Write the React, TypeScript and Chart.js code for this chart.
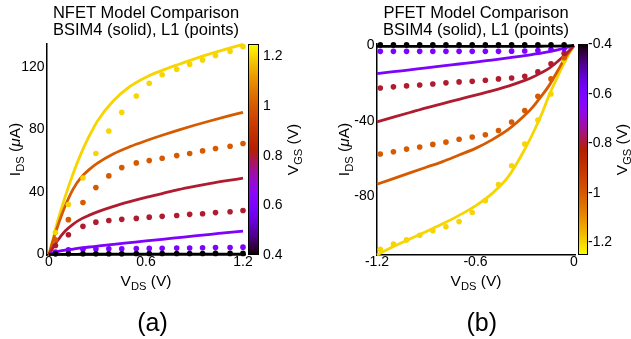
import React, { useEffect, useRef } from "react";
import { Chart, registerables } from "chart.js";
Chart.register(...registerables);

const FONT = '"Liberation Sans", Arial, Helvetica, sans-serif';

// ---------- NFET (panel a) ----------
const nLineVds = [0, 0.025, 0.05, 0.1, 0.15, 0.2, 0.25, 0.3, 0.4, 0.5, 0.6, 0.7, 0.8, 0.9, 1.0, 1.1, 1.2];
const nLine04 = [0, 0.05, 0.1, 0.1, 0.1, 0.15, 0.15, 0.15, 0.2, 0.2, 0.2, 0.25, 0.25, 0.25, 0.3, 0.3, 0.3];
const nLine06 = [0, 1, 1.8, 2.8, 3.5, 4.2, 4.8, 5.3, 6.5, 7.6, 8.7, 9.7, 10.8, 11.9, 12.9, 14, 15];
const nLine08 = [0, 4.5, 8.5, 15, 19.5, 22.8, 25.2, 27.3, 30.8, 33.8, 36.5, 39, 41.5, 43.6, 45.5, 47.2, 48.8];
const nLine10 = [0, 9, 17, 31, 42, 49.5, 54.5, 58.5, 64.5, 69, 72.8, 76.3, 79.6, 82.7, 85.6, 88.4, 91];
const nLine12 = [0, 10, 20, 37, 52, 65, 76, 85.5, 98.5, 107.5, 113.5, 117.8, 121.6, 125.2, 128.5, 131.6, 134.5];

const nPtVds = [0.04, 0.12, 0.21, 0.29, 0.37, 0.45, 0.54, 0.62, 0.7, 0.79, 0.87, 0.95, 1.03, 1.12, 1.2];
const nPt04 = [0.4, 0.5, 0.5, 0.5, 0.5, 0.5, 0.6, 0.6, 0.6, 0.6, 0.6, 0.6, 0.7, 0.7, 0.7];
const nPt06 = [1.5, 3, 3.3, 3.5, 3.6, 3.7, 3.8, 3.9, 4, 4.1, 4.2, 4.3, 4.4, 4.5, 4.7];
const nPt08 = [5.8, 12.6, 18, 20.7, 21.8, 22.5, 23.1, 23.9, 24.4, 25, 25.7, 26.1, 26.8, 27.4, 28.2];
const nPt10 = [9.4, 22.3, 33.2, 42.8, 50.3, 55.6, 58.6, 60.1, 61.6, 63.3, 64.6, 66.3, 67.8, 69.3, 71];
const nPt12 = [14, 32, 49, 64.6, 79, 91, 101.4, 109.6, 115, 118.5, 121.7, 124.5, 127.3, 130, 133];

const nXTicks = [0, 0.6, 1.2];
const nXLabels = ["0", "0.6", "1.2"];
const nYTicks = [0, 40, 80, 120];
const nYLabels = ["0", "40", "80", "120"];
const nCbTicks = [0.4, 0.6, 0.8, 1.0, 1.2];
const nCbLabels = ["0.4", "0.6", "0.8", "1", "1.2"];

// ---------- PFET (panel b) ----------
const pLineVds = [-1.2, -1.1, -1.0, -0.9, -0.8, -0.7, -0.6, -0.5, -0.4, -0.3, -0.25, -0.2, -0.15, -0.1, -0.05, 0];
const pLine04 = [-0.5, -0.5, -0.5, -0.5, -0.5, -0.5, -0.5, -0.5, -0.5, -0.5, -0.45, -0.4, -0.35, -0.3, -0.2, 0];
const pLine06 = [-14.9, -13.9, -12.9, -11.9, -10.8, -9.8, -8.8, -7.7, -6.6, -5.4, -4.7, -4, -3.2, -2.3, -1.2, 0];
const pLine08 = [-40.5, -38, -35.5, -33, -30.8, -28.5, -26.3, -24, -21.5, -18.5, -16.7, -14.5, -12, -8.5, -4.5, 0];
const pLine10 = [-73.5, -70.5, -67.5, -64.5, -61.5, -58, -54.5, -50, -44.5, -37, -32.5, -27, -21, -13.5, -6, 0];
const pLine12 = [-111, -106.5, -102.5, -98.5, -94.5, -90, -85, -78.5, -69.5, -55, -46.5, -37, -26, -16.5, -7.5, 0];

const pPtVds = [-1.18, -1.1, -1.02, -0.94, -0.86, -0.78, -0.7, -0.62, -0.54, -0.46, -0.38, -0.3, -0.22, -0.14, -0.06];
const pPt04 = [0.3, 0.3, 0.3, 0.3, 0.3, 0.3, 0.3, 0.3, 0.3, 0.3, 0.3, 0.3, 0.3, 0.3, 0.3];
const pPt06 = [-3.1, -3.1, -3.1, -3.1, -3.1, -3.1, -3.1, -3.1, -3.1, -3.1, -3, -2.9, -2.7, -2.1, -1.6];
const pPt08 = [-22.5, -21.9, -21.4, -20.9, -20.4, -19.8, -19.3, -19, -18.4, -17.7, -17.2, -16.3, -14, -9.7, -4.2];
const pPt10 = [-57.5, -56.3, -54.9, -53.8, -52.4, -51.2, -49.7, -48.5, -47.3, -45, -40.5, -34.5, -26.9, -17.7, -6.5];
const pPt12 = [-108, -105.2, -103, -100.5, -98.2, -96, -93.3, -88.5, -82.2, -73.7, -63.7, -52.2, -39.5, -25.7, -8];

const pXTicks = [-1.2, -0.6, 0];
const pXLabels = ["-1.2", "-0.6", "0"];
const pYTicks = [0, -40, -80];
const pYLabels = ["0", "-40", "-80"];
const pCbTicks = [-0.4, -0.6, -0.8, -1.0, -1.2];
const pCbLabels = ["-0.4", "-0.6", "-0.8", "-1", "-1.2"];

const vgsLabels = ["0.4", "0.6", "0.8", "1.0", "1.2"];

// gnuplot colormap
function gnuplot(t: number): string {
  const c = (v: number) => Math.round(Math.max(0, Math.min(1, v)) * 255);
  return `rgb(${c(Math.sqrt(t))},${c(t * t * t)},${c(Math.sin(2 * Math.PI * t))})`;
}
const seriesColors = ["#000000", "rgb(124,3,254)", "rgb(175,27,47)", "rgb(214,90,0)", "rgb(247,213,0)"];

type Part = { t: string; sub?: boolean; italic?: boolean };

function drawRich(ctx: CanvasRenderingContext2D, parts: Part[], x: number, y: number, size: number, rotate: boolean) {
  ctx.save();
  ctx.translate(x, y);
  if (rotate) ctx.rotate(-Math.PI / 2);
  const fonts = parts.map((p) => `${p.italic ? "italic " : ""}${p.sub ? size * 0.72 : size}px ${FONT}`);
  let total = 0;
  const widths = parts.map((p, i) => {
    ctx.font = fonts[i];
    const w = ctx.measureText(p.t).width;
    total += w;
    return w;
  });
  let cx = -total / 2;
  ctx.fillStyle = "#000";
  ctx.textBaseline = "alphabetic";
  ctx.textAlign = "left";
  parts.forEach((p, i) => {
    ctx.font = fonts[i];
    ctx.fillText(p.t, cx, p.sub ? size * 0.28 : 0);
    cx += widths[i];
  });
  ctx.restore();
}

type PanelSpec = {
  canvasW: number;
  area: { left: number; right: number; top: number; bottom: number };
  xRange: [number, number];
  yRange: [number, number];
  cbRange: [number, number];
  xTicks: number[]; xLabels: string[];
  yTicks: number[]; yLabels: string[];
  cbTicks: number[]; cbLabels: string[];
  lineX: number[]; lines: number[][];
  ptX: number[]; pts: number[][];
  cbGap: number; cbW: number; cbPad: number; cbReverse: boolean;
  title: [string, string];
  yTitleX: number; cbTitleX: number;
  tag: string; tagX: number;
  name: string;
};

const H = 339;

function buildConfig(p: PanelSpec): any {
  const datasets: any[] = [];
  p.pts.forEach((ys, i) => {
    datasets.push({
      type: "line",
      label: `${p.name} L1 VGS=${vgsLabels[i]}`,
      data: p.ptX.map((x, j) => ({ x, y: ys[j] })),
      showLine: false,
      pointRadius: 2.8,
      pointBorderWidth: 0,
      pointBackgroundColor: seriesColors[i],
      borderColor: seriesColors[i],
      backgroundColor: seriesColors[i],
      clip: false,
    });
  });
  p.lines.forEach((ys, i) => {
    datasets.push({
      type: "line",
      label: `${p.name} BSIM4 VGS=${vgsLabels[i]}`,
      data: p.lineX.map((x, j) => ({ x, y: ys[j] })),
      borderColor: seriesColors[i],
      backgroundColor: seriesColors[i],
      borderWidth: 2.8,
      pointRadius: 0,
      cubicInterpolationMode: "monotone",
      fill: false,
      clip: false,
    });
  });

  const tickFont = { family: FONT, size: 14, lineHeight: 1 };

  const decor = {
    id: "decor",
    afterDraw(chart: any) {
      const ctx = chart.ctx as CanvasRenderingContext2D;
      const a = chart.chartArea;
      const cx = (a.left + a.right) / 2;
      const cy = (a.top + a.bottom) / 2;
      // colorbar
      const bx = a.right + p.cbGap;
      const g = ctx.createLinearGradient(0, p.cbReverse ? a.top : a.bottom, 0, p.cbReverse ? a.bottom : a.top);
      for (let k = 0; k <= 40; k++) g.addColorStop(k / 40, gnuplot(k / 40));
      ctx.save();
      ctx.fillStyle = g;
      ctx.fillRect(bx, a.top, p.cbW, a.bottom - a.top);
      ctx.strokeStyle = "#000";
      ctx.lineWidth = 1;
      ctx.strokeRect(bx + 0.5, a.top + 0.5, p.cbW - 1, a.bottom - a.top - 1);
      // titles
      ctx.fillStyle = "#000";
      ctx.textAlign = "center";
      ctx.textBaseline = "alphabetic";
      ctx.font = `16.5px ${FONT}`;
      ctx.fillText(p.title[0], cx, 18.3);
      ctx.fillText(p.title[1], cx, 35);
      ctx.font = `25px ${FONT}`;
      ctx.fillText(p.tag, p.tagX, 331);
      ctx.restore();
      drawRich(ctx, [{ t: "V" }, { t: "DS", sub: true }, { t: " (V)" }], cx, 285.5, 15.5, false);
      drawRich(ctx, [{ t: "I" }, { t: "DS", sub: true }, { t: " (" }, { t: "\u03bc", italic: true }, { t: "A)" }], p.yTitleX, cy, 15.5, true);
      drawRich(ctx, [{ t: "V" }, { t: "GS", sub: true }, { t: " (V)" }], p.cbTitleX, cy, 15.5, true);
    },
  };

  return {
    type: "line",
    data: { datasets },
    plugins: [decor],
    options: {
      animation: false,
      responsive: false,
      maintainAspectRatio: false,
      events: [],
      layout: { padding: { top: p.area.top, left: 0, right: 0, bottom: 0 } },
      plugins: { legend: { display: false }, tooltip: { enabled: false }, title: { display: false } },
      scales: {
        x: {
          type: "linear",
          position: "bottom",
          min: p.xRange[0],
          max: p.xRange[1],
          afterFit: (s: any) => { s.height = H - p.area.bottom; },
          afterBuildTicks: (s: any) => { s.ticks = p.xTicks.map((v) => ({ value: v })); },
          ticks: { callback: (_v: any, i: number) => p.xLabels[i], font: tickFont, color: "#000", padding: 0, maxRotation: 0, autoSkip: false },
          grid: { display: false, drawTicks: false },
          border: { display: true, color: "#000", width: 1.5 },
        },
        y: {
          type: "linear",
          position: "left",
          min: p.yRange[0],
          max: p.yRange[1],
          afterFit: (s: any) => { s.width = p.area.left; },
          afterBuildTicks: (s: any) => { s.ticks = p.yTicks.map((v) => ({ value: v })); },
          ticks: { callback: (_v: any, i: number) => p.yLabels[i], font: tickFont, color: "#000", padding: 2.5, autoSkip: false },
          grid: { display: false, drawTicks: false },
          border: { display: true, color: "#000", width: 1.5 },
        },
        cb: {
          type: "linear",
          axis: "y",
          position: "right",
          min: p.cbRange[0],
          max: p.cbRange[1],
          afterFit: (s: any) => { s.width = p.canvasW - p.area.right; },
          afterBuildTicks: (s: any) => { s.ticks = p.cbTicks.map((v) => ({ value: v })); },
          ticks: { callback: (_v: any, i: number) => p.cbLabels[i], font: tickFont, color: "#000", padding: p.cbPad, autoSkip: false },
          grid: { display: false, drawTicks: false },
          border: { display: false },
        },
      },
    },
  };
}

const panelA: PanelSpec = {
  name: "NFET",
  canvasW: 320,
  area: { left: 47, right: 245, top: 44, bottom: 255 },
  xRange: [-0.0124, 1.2124],
  yRange: [-0.32, 134.7],
  cbRange: [0.4, 1.25],
  xTicks: nXTicks, xLabels: nXLabels,
  yTicks: nYTicks, yLabels: nYLabels,
  cbTicks: nCbTicks, cbLabels: nCbLabels,
  lineX: nLineVds, lines: [nLine04, nLine06, nLine08, nLine10, nLine12],
  ptX: nPtVds, pts: [nPt04, nPt06, nPt08, nPt10, nPt12],
  cbGap: 3, cbW: 11, cbPad: 18, cbReverse: false,
  title: ["NFET Model Comparison", "BSIM4 (solid), L1 (points)"],
  yTitleX: 20, cbTitleX: 298,
  tag: "(a)", tagX: 152.5,
};

const panelB: PanelSpec = {
  name: "PFET",
  canvasW: 311,
  area: { left: 57, right: 255, top: 44, bottom: 255 },
  xRange: [-1.2, 0.0061],
  yRange: [-111, 0.79],
  cbRange: [-1.25, -0.4],
  xTicks: pXTicks, xLabels: pXLabels,
  yTicks: pYTicks, yLabels: pYLabels,
  cbTicks: pCbTicks, cbLabels: pCbLabels,
  lineX: pLineVds, lines: [pLine04, pLine06, pLine08, pLine10, pLine12],
  ptX: pPtVds, pts: [pPt04, pPt06, pPt08, pPt10, pPt12],
  cbGap: 3, cbW: 10, cbPad: 13, cbReverse: true,
  title: ["PFET Model Comparison", "BSIM4 (solid), L1 (points)"],
  yTitleX: 29, cbTitleX: 307,
  tag: "(b)", tagX: 161.7,
};

export default function App() {
  const refA = useRef<HTMLCanvasElement>(null);
  const refB = useRef<HTMLCanvasElement>(null);
  useEffect(() => {
    const a = new Chart(refA.current as HTMLCanvasElement, buildConfig(panelA));
    const b = new Chart(refB.current as HTMLCanvasElement, buildConfig(panelB));
    return () => { a.destroy(); b.destroy(); };
  }, []);
  return (
    <div style={{ position: "fixed", left: 0, top: 0, width: 631, height: 339, background: "#fff" }}>
      <canvas ref={refA} width={320} height={339} style={{ position: "absolute", left: 0, top: 0, width: 320, height: 339 }} />
      <canvas ref={refB} width={311} height={339} style={{ position: "absolute", left: 320, top: 0, width: 311, height: 339 }} />
    </div>
  );
}
